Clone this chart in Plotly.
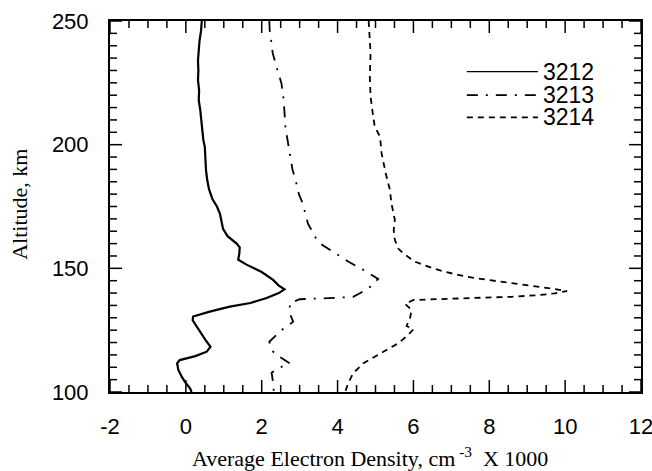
import plotly.graph_objects as go

# Average electron density profiles (units of 1000 cm^-3) versus altitude (km)
alt_3212 = [250, 246, 242, 238, 234, 230, 226, 222, 218, 214, 210, 206, 202, 199, 195,
            190, 186, 182, 178, 175, 172, 169, 166, 163, 160, 158.5, 156, 153.5, 151.5,
            148.5, 145.3, 143, 141.5, 140, 138, 136, 134.5, 132.5, 130.5, 129, 126,
            123.7, 121, 118.3, 116.3, 114.5, 112.9, 111.6, 109, 106.2, 104, 101.5, 100]
ne_3212 = [0.42, 0.40, 0.36, 0.34, 0.32, 0.33, 0.32, 0.35, 0.34, 0.38, 0.40, 0.42, 0.46,
           0.50, 0.51, 0.53, 0.56, 0.61, 0.70, 0.82, 0.90, 0.95, 0.98, 1.10, 1.34, 1.42,
           1.41, 1.38, 1.60, 2.00, 2.30, 2.45, 2.60, 2.45, 2.13, 1.70, 1.16, 0.63, 0.19,
           0.18, 0.30, 0.41, 0.52, 0.65, 0.55, 0.25, -0.16, -0.23, -0.20, -0.11, -0.02,
           0.11, 0.15]

alt_3213 = [250, 246.4, 242, 237, 232, 228, 224.8, 218, 211.3, 206, 202, 196, 190, 184,
            180, 176.3, 172.3, 168, 164.2, 161.5, 159.4, 156.1, 152.7, 149, 147, 145.7,
            143.8, 141.9, 140, 138.5, 138.1, 137.8, 137.5, 135.9, 131.8, 128.4, 125,
            120.3, 116.3, 114.6, 111.6, 109.6, 107.8, 103.8, 100]
ne_3213 = [2.20, 2.21, 2.25, 2.29, 2.38, 2.45, 2.52, 2.58, 2.61, 2.63, 2.68, 2.74, 2.81,
           2.92, 2.98, 3.08, 3.14, 3.22, 3.36, 3.45, 3.60, 3.93, 4.29, 4.72, 4.95, 5.07,
           4.95, 4.81, 4.60, 4.41, 3.97, 3.50, 3.00, 2.74, 2.74, 2.83, 2.52, 2.20, 2.30,
           2.43, 2.74, 2.43, 2.26, 2.30, 2.32]

alt_3214 = [250, 246.4, 237, 227.6, 219.4, 211.3, 207.3, 203.2, 196.5, 188.4, 181.7,
            176.3, 169.6, 165.5, 161.5, 158, 156.1, 152.7, 150, 148.6, 146.6, 145.3,
            144.2, 142.9, 141.9, 140.8, 139.9, 139.2, 138.5, 138.1, 137.5, 137.2, 135.6,
            133.2, 129.8, 126.7, 125.4, 123, 119.7, 115.6, 111.6, 107.6, 103.5, 100]
ne_3214 = [4.82, 4.83, 4.87, 4.85, 4.87, 4.94, 4.98, 5.12, 5.16, 5.27, 5.38, 5.42, 5.51,
           5.48, 5.51, 5.60, 5.73, 6.04, 6.52, 6.83, 7.40, 7.97, 8.54, 9.07, 9.60, 10.05,
           9.73, 9.33, 8.59, 7.75, 6.70, 6.00, 5.78, 5.95, 5.91, 5.82, 6.00, 5.86, 5.60,
           5.12, 4.68, 4.41, 4.28, 4.20]

series_names = ["3212", "3213", "3214"]
x_range = [-2, 12]
y_range = [100, 250]
x_ticks = [-2, 0, 2, 4, 6, 8, 10, 12]
x_ticktext = ["-2", "0", "2", "4", "6", "8", "10", "12"]
y_ticks = [100, 150, 200, 250]
y_ticktext = ["100", "150", "200", "250"]

# minor tick positions: every 0.5 in density, every 5 km in altitude
x_minor = [-2 + 0.5 * i for i in range(29)]
y_minor = [100 + 5 * i for i in range(31)]

SANS = "Liberation Sans, Arial, Helvetica, sans-serif"
SERIF = "Liberation Serif, Times New Roman, Times, serif"

dashes = ["solid", "11px,8px,2px,8px", "6px,5px"]
widths = [2.2, 1.8, 1.8]
profiles = [(ne_3212, alt_3212), (ne_3213, alt_3213), (ne_3214, alt_3214)]

fig = go.Figure()
for name, (xs, ys), dash, w in zip(series_names, profiles, dashes, widths):
    fig.add_trace(go.Scatter(x=xs, y=ys, mode="lines", name=name,
                             line=dict(color="black", width=w, dash=dash),
                             showlegend=False))

# key drawn in the upper right of the frame
key_rows = [0.8635, 0.8000, 0.7400]
key_widths = [1.3, 1.8, 1.8]
for name, dash, ky, w in zip(series_names, dashes, key_rows, key_widths):
    fig.add_shape(type="line", xref="paper", yref="paper",
                  x0=0.672, x1=0.806, y0=ky, y1=ky,
                  line=dict(color="black", width=w, dash=dash))
    fig.add_annotation(xref="paper", yref="paper", x=0.812, y=ky,
                       xanchor="left", yanchor="middle", text=name,
                       showarrow=False, font=dict(family=SANS, size=23, color="black"))

# inward tick marks on all four sides of the frame, sized in pixels
TICK = dict(color="black", width=1.5)
MAJOR_LEN, MINOR_LEN = 12, 7
for v in x_minor:
    n = MAJOR_LEN if v in x_ticks else MINOR_LEN
    for edge, sign in ((0, 1), (1, -1)):
        fig.add_shape(type="line", xref="x", yref="paper", ysizemode="pixel",
                      yanchor=edge, x0=v, x1=v, y0=0, y1=sign * n, line=TICK)
for v in y_minor:
    n = MAJOR_LEN if v in y_ticks else MINOR_LEN
    for edge, sign in ((0, 1), (1, -1)):
        fig.add_shape(type="line", xref="paper", yref="y", xsizemode="pixel",
                      xanchor=edge, x0=0, x1=sign * n, y0=v, y1=v, line=TICK)

axis_common = dict(
    automargin=False, showgrid=False, zeroline=False, showline=True,
    linecolor="black", linewidth=2, ticklabeloverflow="allow",
    mirror=True, ticks="", tickfont=dict(family=SANS, size=22, color="black"),
)

fig.update_xaxes(range=x_range, tickvals=x_ticks, ticktext=x_ticktext,
                 ticklabelstandoff=14, **axis_common)
fig.update_yaxes(range=y_range, tickvals=y_ticks, ticktext=y_ticktext,
                 ticklabelstandoff=15, **axis_common)

fig.add_annotation(xref="paper", yref="paper", x=0.49, y=-0.175,
                   xanchor="center", yanchor="middle", showarrow=False,
                   text="Average Electron Density, cm<sup> -3</sup>  X 1000",
                   font=dict(family=SERIF, size=22, color="black"))
fig.add_annotation(xref="paper", yref="paper", x=-0.171, y=0.505,
                   xanchor="center", yanchor="middle", showarrow=False,
                   textangle=-90, text="Altitude, km",
                   font=dict(family=SERIF, size=22, color="black"))

fig.update_layout(template="none", width=652, height=471,
                  margin=dict(l=110, r=11, t=21, b=79),
                  plot_bgcolor="white", paper_bgcolor="white",
                  showlegend=False)

fig.write_html("out.html")
